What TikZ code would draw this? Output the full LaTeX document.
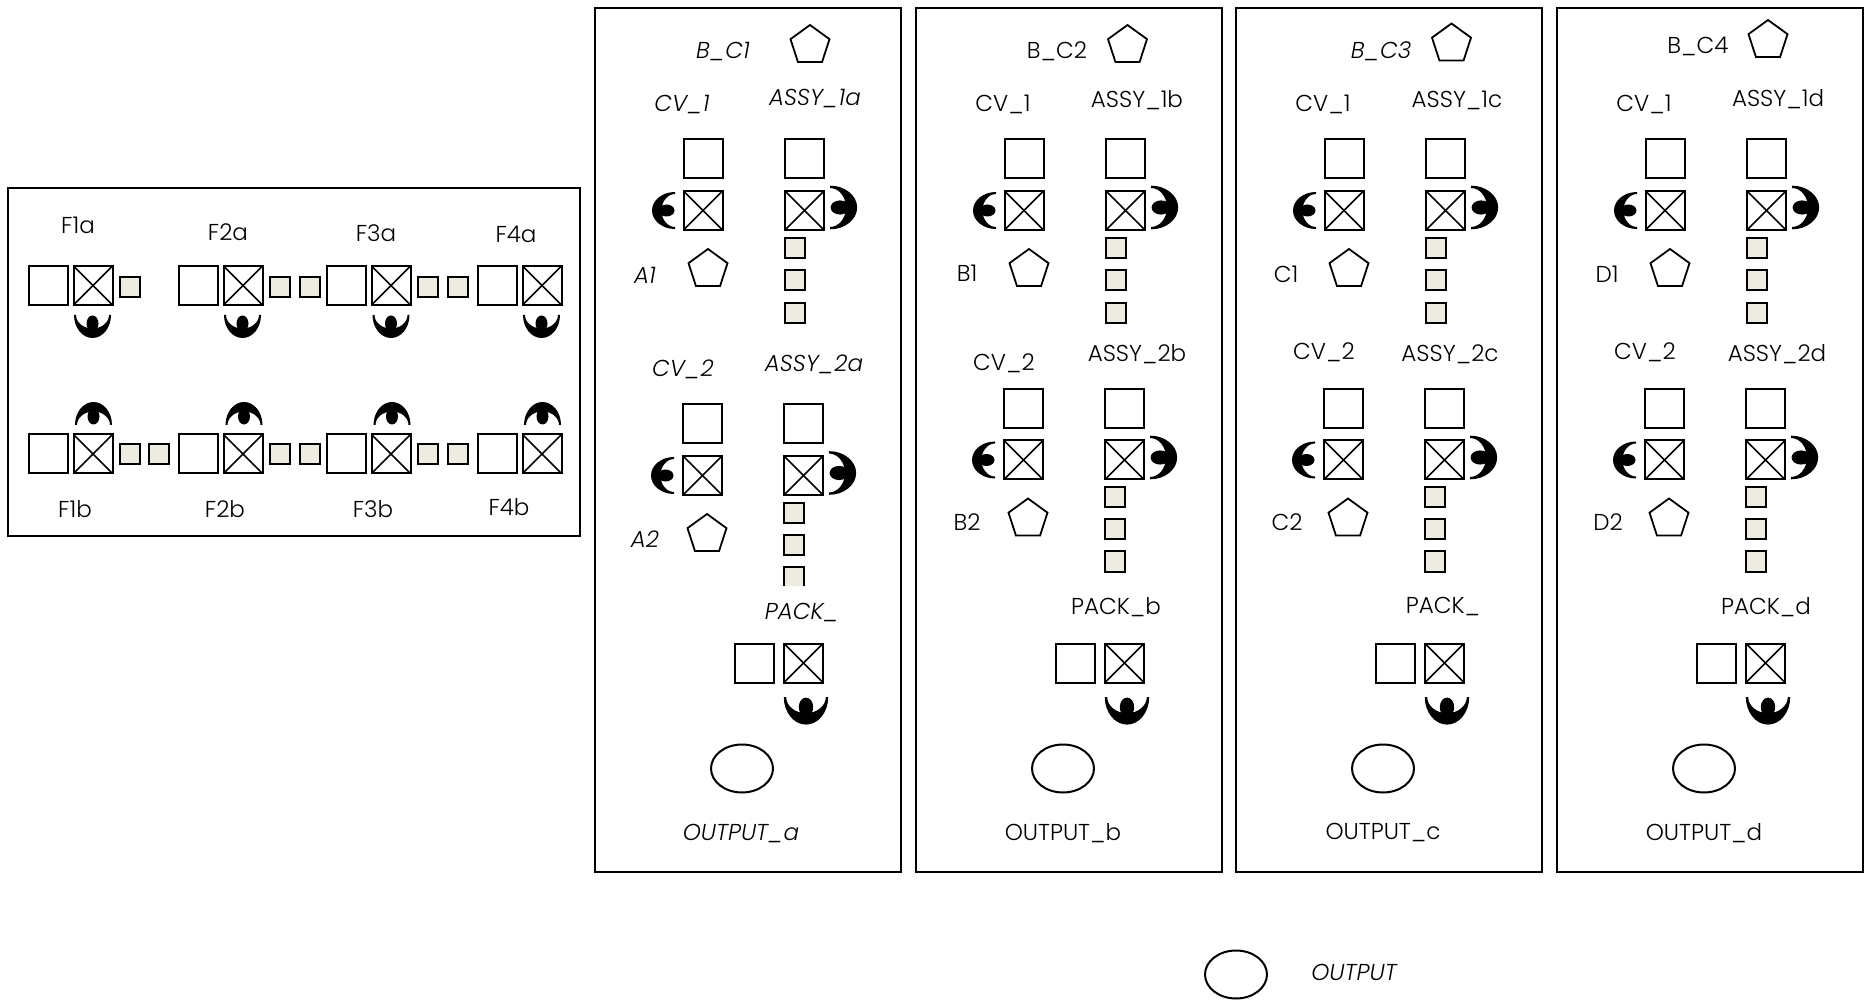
\documentclass[tikz,border=0pt]{standalone}
\usepackage{fontspec}
\setmainfont{Poppins Light}
\usetikzlibrary{shapes.geometric}
\definecolor{wipfill}{HTML}{EEECE1}
\tikzset{
  oper/.pic={
    \fill (-18.5,0) arc[start angle=180,end angle=0,x radius=18.5,y radius=23]
      -- (16.5,0) arc[start angle=0,end angle=180,x radius=16.5,y radius=13.5] -- cycle;
    \fill (0,8.5) ellipse[x radius=6,y radius=8];
  }}
\begin{document}
\begin{tikzpicture}[x=.5pt, y=-.5pt,
  frame/.style={line width=1pt},
  sq/.style={draw, line width=1pt, fill=white, minimum size=19.5pt, inner sep=0pt},
  xsq/.style={sq, path picture={
    \draw[line width=.8pt] (path picture bounding box.north west) -- (path picture bounding box.south east);
    \draw[line width=.8pt] (path picture bounding box.north east) -- (path picture bounding box.south west);}},
  wip/.style={draw, line width=1pt, fill=wipfill, minimum size=10pt, inner sep=0pt},
  pent/.style={draw, line width=.9pt, regular polygon, regular polygon sides=5, minimum size=20.5pt, inner sep=0pt},
  oval/.style={draw, line width=1pt, ellipse, minimum width=31pt, minimum height=24pt, inner sep=0pt},
  lab/.style={font=\fontsize{11.5}{13}\selectfont, inner sep=0pt},
  ilab/.style={lab, font=\fontsize{11.5}{13}\selectfont\itshape}]
\useasboundingbox (0,0) rectangle (1864,1005);
% frames
\draw[frame] (8,188) rectangle (580,536);
\foreach \xa/\xb in {595/901, 916/1222, 1236/1542, 1557/1863}
  \draw[frame] (\xa,8) rectangle (\xb,871.5);
% left box, two rows of stations
\foreach \n/\xs/\xc/\oa/\ob in {1/48.5/93/92.5/93.5, 2/198/243/242.5/244, 3/346.5/391/391/392, 4/497.5/542/541.5/542.5} {
  \node[sq] (fa\n) at (\xs,285.5) {};
  \node[xsq] (fax\n) at (\xc,285.5) {};
  \node[sq] (fb\n) at (\xs,454) {};
  \node[xsq] (fbx\n) at (\xc,454) {};
  \pic at (\oa,315) {oper};
  \pic[rotate=180] at (\ob,425) {oper};
}
\foreach \x [count=\i] in {130,279.5,310,428,458}
  \node[wip] (wa\i) at (\x,287) {};
\foreach \x [count=\i] in {130,159,279.5,310,428,458}
  \node[wip] (wb\i) at (\x,454.5) {};
% the four panels
\foreach \p/\dx/\dy in {a/0/0, b/321/-15.5, c/641/-15.5, d/962/-15.5} {
  \node[sq] (cv1-\p) at (703+\dx,159) {};
  \node[xsq] (cvx1-\p) at (703+\dx,210.5) {};
  \node[sq] (as1-\p) at (804.5+\dx,159) {};
  \node[xsq] (asx1-\p) at (804.5+\dx,210.5) {};
  \node[pent] (st1-\p) at (708+\dx,269.5) {};
  \foreach \y [count=\i] in {248,280,313}
    \node[wip] (wu\i-\p) at (795+\dx,\y) {};
  \pic[rotate=-90] at (675+\dx,210.5) {oper};
  \pic[rotate=90,scale=1.18] at (830+\dx,207.5) {oper};
  \node[sq] (cv2-\p) at (702.5+\dx,424+\dy) {};
  \node[xsq] (cvx2-\p) at (702.5+\dx,475.5+\dy) {};
  \node[sq] (as2-\p) at (803.5+\dx,424+\dy) {};
  \node[xsq] (asx2-\p) at (803.5+\dx,475.5+\dy) {};
  \node[pent] (st2-\p) at (707+\dx,534.5+\dy) {};
  \foreach \y [count=\i] in {513,545,577}
    \node[wip] (wl\i-\p) at (793.5+\dx,\y+\dy) {};
  \pic[rotate=-90] at (674+\dx,475.5+\dy) {oper};
  \pic[rotate=90,scale=1.18] at (829+\dx,473+\dy) {oper};
  \node[sq] (pk-\p) at (754+\dx,663) {};
  \node[xsq] (pkx-\p) at (803.5+\dx,663) {};
  \pic[scale=1.2] at (806+\dx,697) {oper};
  \node[oval] (out-\p) at (742+\dx,768.5) {};
}
\fill[white] ([xshift=-1pt,yshift=1.1pt]wl3-a.south west) rectangle ([xshift=1pt,yshift=-.2pt]wl3-a.south east);
\foreach \x/\y [count=\i] in {810/45.5, 1127.5/45.5, 1451.5/44, 1768/40.5}
  \node[pent] (bc\i) at (\x,\y) {};
\node[oval] (outall) at (1236,974.5) {};
% labels
\foreach \x/\y/\t [count=\i] in {78/225/F1a, 228/232/F2a, 376/233/F3a, 516/234/F4a,
    75/509/F1b, 225/509/F2b, 373/509/F3b, 509/507/F4b,
    1057/51/B\_C2, 1003/104/CV\_1, 1137/100/ASSY\_1b, 967/273/B1, 1004/363/CV\_2, 1137/354/ASSY\_2b, 967/522/B2, 1116/607/PACK\_b, 1063/833/OUTPUT\_b,
    1323/104/CV\_1, 1457/100/ASSY\_1c, 1286/274/C1, 1324/352/CV\_2, 1450/354/ASSY\_2c, 1287/522/C2, 1443/607/PACK\_, 1383/833/OUTPUT\_c,
    1698/46/B\_C4, 1644/104/CV\_1, 1778/99/ASSY\_1d, 1607/274/D1, 1645/352/CV\_2, 1777/354/ASSY\_2d, 1608/522/D2, 1766/607/PACK\_d, 1704/833/OUTPUT\_d}
  \node[lab] (lab\i) at (\x,\y) {\t};
\foreach \x/\y/\t [count=\i] in {723/52/B\_C1, 682/105/CV\_1, 815/99/ASSY\_1a, 645/275/A1, 683/369/CV\_2, 814/364/ASSY\_2a, 645/539/A2, 802/613/PACK\_, 741/834/OUTPUT\_a,
    1381/51/B\_C3, 1354/972/OUTPUT}
  \node[ilab] (ilab\i) at (\x,\y) {\t};
\end{tikzpicture}
\end{document}
